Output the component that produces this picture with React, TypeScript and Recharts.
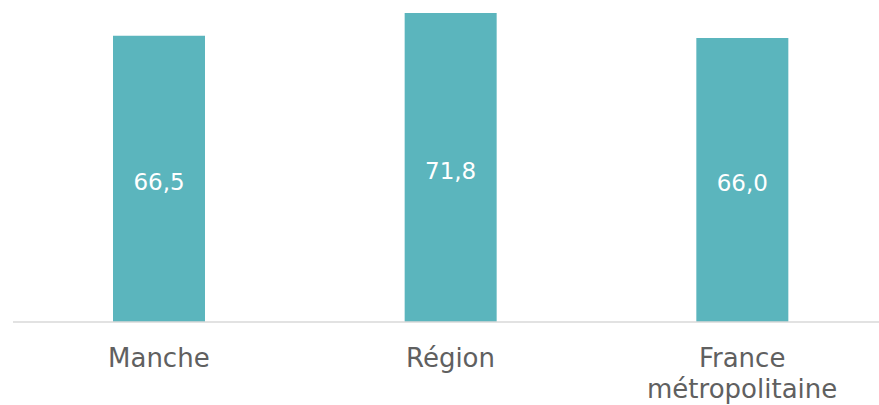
import React from 'react';
import { BarChart, Bar, XAxis, YAxis, LabelList } from 'recharts';

const categories = ['Manche', 'Région', 'France métropolitaine'];
const values = [66.5, 71.8, 66.0];
const tickLines: string[][] = [['Manche'], ['Région'], ['France', 'métropolitaine']];

const data = categories.map((c, i) => ({ name: c, value: values[i] }));

const FONT = '"DejaVu Sans", sans-serif';

const Tick = (props: any) => {
  const { x, y, payload } = props;
  const lines = tickLines[payload.index] || [payload.value];
  return (
    <g>
      {lines.map((l: string, i: number) => (
        <text
          key={i}
          x={x}
          y={y + 37 + i * 31}
          textAnchor="middle"
          fill="#606060"
          fontSize={26}
          fontFamily={FONT}
        >
          {l}
        </text>
      ))}
    </g>
  );
};

const fmt = (v: any) => Number(v).toFixed(1).replace('.', ',');

export default function App() {
  return (
    <div style={{ position: 'absolute', left: 0, top: 0, width: 879, height: 405, overflow: 'hidden', background: '#fff' }}>
      <BarChart
        width={900}
        height={405}
        data={data}
        margin={{ top: 13, right: 12, bottom: 0, left: 13 }}
        barCategoryGap={0}
      >
        <XAxis
          dataKey="name"
          height={83}
          tickLine={false}
          axisLine={{ stroke: '#d9d9d9', strokeWidth: 1.5 }}
          tick={<Tick />}
          interval={0}
        />
        <YAxis hide domain={[0, 'dataMax']} />
        <Bar dataKey="value" fill="#5bb5bd" barSize={92} isAnimationActive={false}>
          <LabelList
            dataKey="value"
            position="center"
            formatter={fmt}
            fill="#ffffff"
            fontSize={23}
            fontFamily={FONT}
            dy={3}
          />
        </Bar>
      </BarChart>
    </div>
  );
}
